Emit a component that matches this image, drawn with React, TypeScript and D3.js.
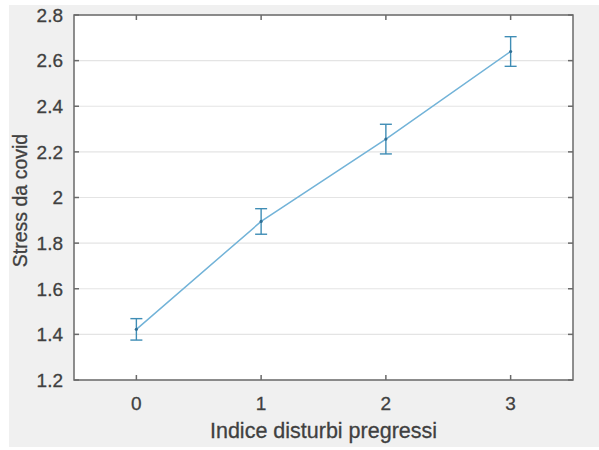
import React from 'react';
import * as d3 from 'd3';

// data
const categories = [0, 1, 2, 3];
const means = [1.422, 1.895, 2.256, 2.64];
const errors = [0.047, 0.056, 0.065, 0.065];
const yTicks = [1.2, 1.4, 1.6, 1.8, 2, 2.2, 2.4, 2.6, 2.8];

const W = 599;
const H = 450;
const box = {left: 74, right: 573, top: 15, bottom: 380};

export default function App() {
	const x = d3.scaleLinear().domain([-0.5, 3.5]).range([box.left, box.right]);
	const y = d3.scaleLinear().domain([1.2, 2.8]).range([box.bottom, box.top]);

	const line = d3.line<number>()
		.x((d, i) => x(categories[i]))
		.y(d => y(d));

	const font = 'Liberation Sans, Arial, sans-serif';
	const textColor = '#404040';
	const axisColor = '#6a6a6a';
	const tickLen = 5;
	const cap = 6;

	return (
		<svg width={W} height={H} style={{position: 'absolute', left: 0, top: 0}}>
			<rect x={0} y={0} width={W} height={H} fill="#ffffff"/>
			<rect x={9} y={5} width={W - 9} height={442} fill="#f0f0f0"/>
			<rect x={box.left} y={box.top} width={box.right - box.left} height={box.bottom - box.top} fill="#ffffff"/>

			{/* grid (only horizontal) */}
			<g className="grid">
				{yTicks.map(t => (
					<line key={t} x1={box.left} x2={box.right} y1={y(t)} y2={y(t)} stroke="#e4e4e4" strokeWidth={1.2}/>
				))}
			</g>

			{/* box + ticks */}
			<g className="axes" stroke={axisColor} strokeWidth={1.5} fill="none">
				<rect x={box.left} y={box.top} width={box.right - box.left} height={box.bottom - box.top}/>
				{categories.map(c => (
					<g key={c}>
						<line x1={x(c)} x2={x(c)} y1={box.bottom} y2={box.bottom - tickLen}/>
						<line x1={x(c)} x2={x(c)} y1={box.top} y2={box.top + tickLen}/>
					</g>
				))}
				{yTicks.map(t => (
					<g key={t}>
						<line x1={box.left} x2={box.left + tickLen} y1={y(t)} y2={y(t)}/>
						<line x1={box.right} x2={box.right - tickLen} y1={y(t)} y2={y(t)}/>
					</g>
				))}
			</g>

			{/* tick labels */}
			<g fontFamily={font} fontSize={19} fill={textColor} stroke={textColor} strokeWidth={0.3}>
				{yTicks.map(t => (
					<text key={t} x={box.left - 11} y={y(t)} dy="0.36em" textAnchor="end">{d3.format('~g')(t)}</text>
				))}
				{categories.map(c => (
					<text key={c} x={x(c)} y={box.bottom + 30} textAnchor="middle">{c}</text>
				))}
			</g>

			<text x={(box.left + box.right) / 2} y={438} textAnchor="middle" fontFamily={font} fontSize={21.5} fill={textColor} stroke={textColor} strokeWidth={0.3}>
				Indice disturbi pregressi
			</text>
			<text transform={`translate(27,${(box.top + box.bottom) / 2 + 3}) rotate(-90)`} textAnchor="middle" fontFamily={font} fontSize={19.5} fill={textColor} stroke={textColor} strokeWidth={0.3}>
				Stress da covid
			</text>

			{/* line */}
			<path d={line(means) || ''} fill="none" stroke="#72b3d8" strokeWidth={1.5}/>

			{/* error bars */}
			<g stroke="#3f8db5" strokeWidth={1.4}>
				{means.map((m, i) => {
					const cx = x(categories[i]);
					return (
						<g key={i}>
							<line x1={cx} x2={cx} y1={y(m - errors[i])} y2={y(m + errors[i])}/>
							<line x1={cx - cap} x2={cx + cap} y1={y(m - errors[i])} y2={y(m - errors[i])}/>
							<line x1={cx - cap} x2={cx + cap} y1={y(m + errors[i])} y2={y(m + errors[i])}/>
						</g>
					);
				})}
			</g>
			<g fill="#2f6f95">
				{means.map((m, i) => (
					<circle key={i} cx={x(categories[i])} cy={y(m)} r={1.6}/>
				))}
			</g>
		</svg>
	);
}
